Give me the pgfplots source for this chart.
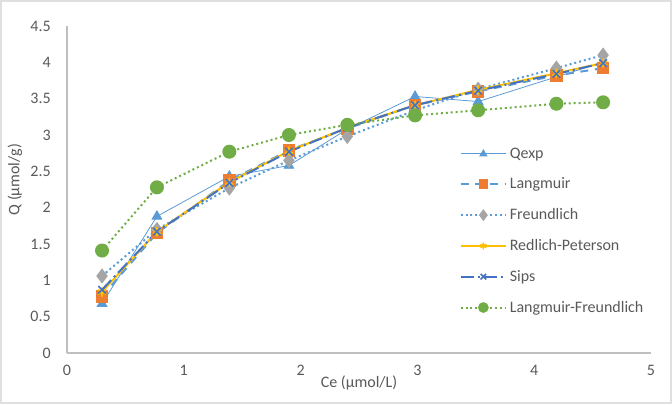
\documentclass[border=0pt]{standalone}
\usepackage{pgfplots}
\pgfplotsset{compat=1.18}
\usepackage{fontspec}
\setmainfont{Carlito}
\definecolor{txt}{HTML}{595959}
\definecolor{axl}{HTML}{BFBFBF}
\definecolor{cblue}{HTML}{5B9BD5}
\definecolor{corange}{HTML}{ED7D31}
\definecolor{cgray}{HTML}{A5A5A5}
\definecolor{cyellow}{HTML}{FFC000}
\definecolor{cdblue}{HTML}{4472C4}
\definecolor{cgreen}{HTML}{70AD47}
\begin{document}
\begin{tikzpicture}
\useasboundingbox (-50.25pt,-38.25pt) rectangle (453.75pt,264.75pt);
\draw[color=gray!25, line width=0.8pt] (-49.5pt,-37.5pt) rectangle (453pt,264pt);
\begin{axis}[
  at={(0,0)}, anchor=south west,
  scale only axis, width=438pt, height=245.25pt,
  xmin=0, xmax=5, ymin=0, ymax=4.5,
  xtick={0,1,...,5}, ytick={0,0.5,...,4.5},
  axis x line*=bottom, axis y line*=left,
  axis line style={draw=axl, line width=0.8pt, -},
  major tick length=0pt,
  font=\fontsize{12}{14}\selectfont\color{txt},
  /pgf/number format/assume math mode=true,
  ticklabel style={font=\fontsize{12}{14}\selectfont\color{txt}},
  yticklabel style={inner sep=0pt, xshift=-12pt},
  xticklabel style={inner sep=0pt, yshift=-9pt},
  xlabel={Ce (µmol/L)}, ylabel={Q (µmol/g)},
  xlabel style={at={(axis description cs:0.5,-0.092)}, anchor=center, inner sep=0pt},
  ylabel style={at={(axis description cs:-0.089,0.53)}, anchor=center, inner sep=0pt},
  legend style={draw=none, fill=none, at={(0.665,0.645)}, anchor=north west,
    font=\fontsize{12}{14}\selectfont\color{txt}, row sep=9.3pt,
    /tikz/every even column/.append style={column sep=0pt}},
  legend cell align=left,
  legend image code/.code={\draw[mark repeat=2,mark phase=2, every mark/.append style={scale=0.72}] plot coordinates {(0cm,0cm)(0.6cm,0cm)(1.2cm,0cm)};},
]
\addplot[color=cblue, line width=0.6pt, mark=triangle*, mark size=4.2pt, mark options={solid, fill=cblue, draw=cblue}]
 coordinates {(0.3,0.68)(0.77,1.88)(1.39,2.43)(1.9,2.58)(2.4,3.08)(2.98,3.53)(3.52,3.46)(4.19,3.8)(4.59,4.0)};
\addlegendentry{Qexp}
\addplot[color=cblue, line width=1.5pt, dash pattern=on 6pt off 5pt, mark=square*, mark size=4pt, mark options={solid, fill=corange, draw=corange}]
 coordinates {(0.3,0.78)(0.77,1.65)(1.39,2.37)(1.9,2.79)(2.4,3.09)(2.98,3.41)(3.52,3.6)(4.19,3.82)(4.59,3.92)};
\addlegendentry{Langmuir}
\addplot[color=cblue, line width=1.5pt, dash pattern=on 1.5pt off 2.2pt, mark=diamond*, mark size=4.5pt, mark options={solid, fill=cgray, draw=cgray}]
 coordinates {(0.3,1.06)(0.77,1.7)(1.39,2.27)(1.9,2.65)(2.4,2.98)(2.98,3.34)(3.52,3.63)(4.19,3.92)(4.59,4.1)};
\addlegendentry{Freundlich}
\addplot[color=cyellow, line width=1.5pt, mark=asterisk, mark size=3.5pt, mark options={solid, draw=cyellow, line width=1.2pt}]
 coordinates {(0.3,0.84)(0.77,1.67)(1.39,2.35)(1.9,2.78)(2.4,3.1)(2.98,3.41)(3.52,3.62)(4.19,3.85)(4.59,3.99)};
\addlegendentry{Redlich-Peterson}
\addplot[color=cdblue, line width=1.5pt, dash pattern=on 10pt off 3pt on 1.5pt off 3pt, mark=x, mark size=4pt, mark options={solid, draw=cdblue, line width=1.2pt}]
 coordinates {(0.3,0.87)(0.77,1.67)(1.39,2.34)(1.9,2.77)(2.4,3.1)(2.98,3.41)(3.52,3.61)(4.19,3.84)(4.59,3.99)};
\addlegendentry{Sips}
\addplot[color=cgreen, line width=1.5pt, dash pattern=on 1.5pt off 2.2pt, mark=*, mark size=4.5pt, mark options={solid, fill=cgreen, draw=cgreen}]
 coordinates {(0.3,1.41)(0.77,2.28)(1.39,2.77)(1.9,3.0)(2.4,3.14)(2.98,3.27)(3.52,3.34)(4.19,3.43)(4.59,3.45)};
\addlegendentry{Langmuir-Freundlich}
\end{axis}
\end{tikzpicture}
\end{document}
